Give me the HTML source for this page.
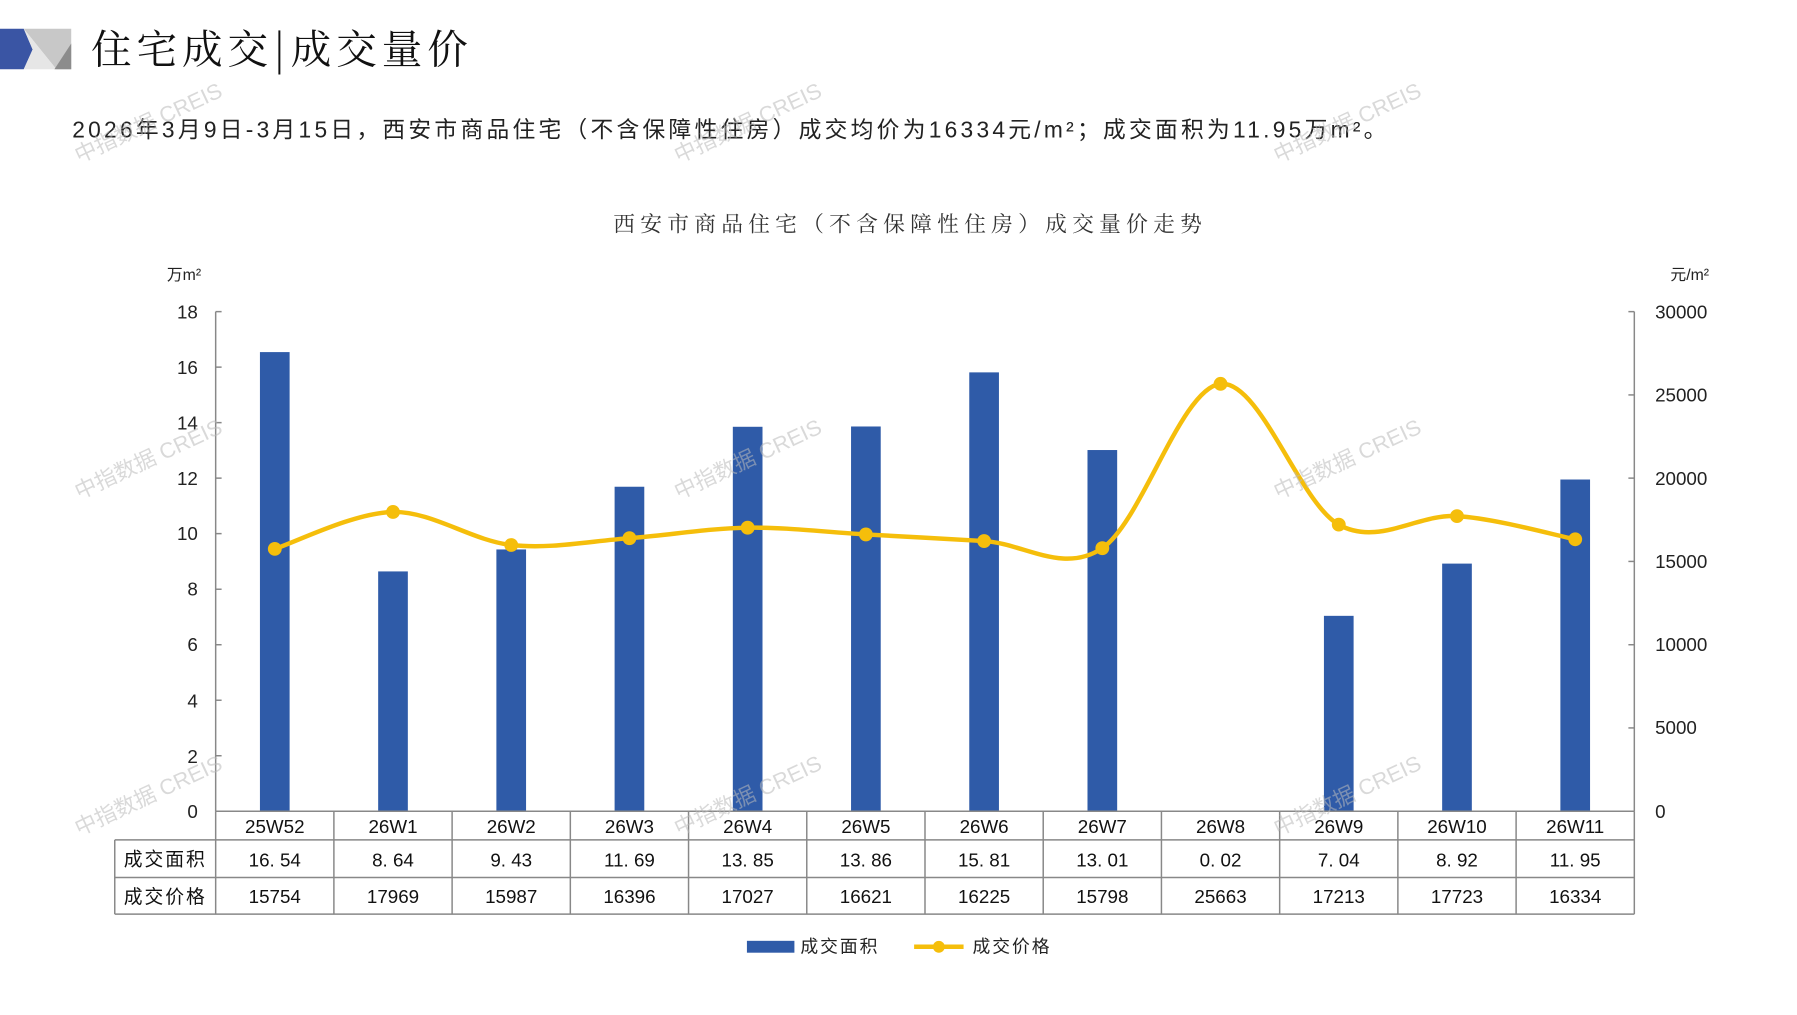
<!DOCTYPE html>
<html><head><meta charset="utf-8"><style>
html,body{margin:0;padding:0;background:#fff;}
body{width:1797px;height:1010px;overflow:hidden;position:relative;font-family:"Liberation Sans","Noto Sans CJK SC",sans-serif;}
</style></head><body>
<svg width="1797" height="1010" viewBox="0 0 1797 1010" xmlns="http://www.w3.org/2000/svg" font-family="Liberation Sans, Noto Sans CJK SC, sans-serif">
<g transform="scale(0.9893)">
<!-- header logo -->
<polygon points="0,29 24,29 33,50 24,70 0,70" fill="#3a55a4"/>
<polygon points="24,29 72,29 72,70 57,70" fill="#c8c8c8"/>
<polygon points="24,29 57,70 24,70 33,50" fill="#e6e6e6"/>
<polygon points="72,44 72,70 55,70" fill="#8c8c8c"/>
<text x="92" y="64" font-size="41" fill="#111" letter-spacing="5" font-family="Noto Serif CJK SC, serif">住宅成交|成交量价</text>
<text x="73" y="139" font-size="23" fill="#222" letter-spacing="3.3">2026年3月9日-3月15日，西安市商品住宅（不含保障性住房）成交均价为16334元/m²；成交面积为11.95万m²。</text>
<text x="920" y="234" font-size="22" fill="#333" text-anchor="middle" letter-spacing="5.3" font-family="Noto Serif CJK SC, serif">西安市商品住宅（不含保障性住房）成交量价走势</text>
<text x="186" y="283" font-size="16" fill="#222" text-anchor="middle">万m²</text>
<text x="1708" y="283" font-size="16" fill="#222" text-anchor="middle">元/m²</text>
<!-- axes -->
<g stroke="#888" stroke-width="1.5" fill="none">
<line x1="218" y1="315" x2="218" y2="820"/>
<line x1="1652" y1="315" x2="1652" y2="820"/>
</g>
<g stroke="#888" stroke-width="1.5">
<line x1="218" y1="315.0" x2="224" y2="315.0"/><line x1="218" y1="371.1" x2="224" y2="371.1"/><line x1="218" y1="427.2" x2="224" y2="427.2"/><line x1="218" y1="483.3" x2="224" y2="483.3"/><line x1="218" y1="539.4" x2="224" y2="539.4"/><line x1="218" y1="595.6" x2="224" y2="595.6"/><line x1="218" y1="651.7" x2="224" y2="651.7"/><line x1="218" y1="707.8" x2="224" y2="707.8"/><line x1="218" y1="763.9" x2="224" y2="763.9"/>
<line x1="1646" y1="315" x2="1652" y2="315"/><line x1="1646" y1="399.2" x2="1652" y2="399.2"/><line x1="1646" y1="483.3" x2="1652" y2="483.3"/><line x1="1646" y1="567.5" x2="1652" y2="567.5"/><line x1="1646" y1="651.7" x2="1652" y2="651.7"/><line x1="1646" y1="735.8" x2="1652" y2="735.8"/>
</g>
<g font-size="19" fill="#222" text-anchor="end">
<text x="200" y="322">18</text><text x="200" y="378">16</text><text x="200" y="434">14</text><text x="200" y="490">12</text><text x="200" y="546">10</text><text x="200" y="602">8</text><text x="200" y="658">6</text><text x="200" y="715">4</text><text x="200" y="771">2</text><text x="200" y="827">0</text>
</g>
<g font-size="19" fill="#222">
<text x="1673" y="322">30000</text><text x="1673" y="406">25000</text><text x="1673" y="490">20000</text><text x="1673" y="574">15000</text><text x="1673" y="658">10000</text><text x="1673" y="742">5000</text><text x="1673" y="827">0</text>
</g>
<!-- bars -->
<g fill="#2f5ba8">
<rect x="262.75" y="355.9" width="30" height="464.1"/>
<rect x="382.25" y="577.6" width="30" height="242.4"/>
<rect x="501.75" y="555.4" width="30" height="264.6"/>
<rect x="621.25" y="492.0" width="30" height="328.0"/>
<rect x="740.75" y="431.4" width="30" height="388.6"/>
<rect x="860.25" y="431.1" width="30" height="388.9"/>
<rect x="979.75" y="376.4" width="30" height="443.6"/>
<rect x="1099.25" y="454.9" width="30" height="365.1"/>
<rect x="1218.75" y="819.4" width="30" height="0.6"/>
<rect x="1338.25" y="622.5" width="30" height="197.5"/>
<rect x="1457.75" y="569.7" width="30" height="250.3"/>
<rect x="1577.25" y="484.7" width="30" height="335.3"/>
</g>
<!-- line -->
<path d="M277.75,554.8 C297.7,548.6 357.4,518.2 397.25,517.5 C437.1,516.9 476.9,546.5 516.75,550.9 C556.6,555.3 596.4,546.9 636.25,544.0 C676.1,541.1 715.9,534.0 755.75,533.4 C795.6,532.8 835.4,537.95 875.25,540.2 C915.1,542.45 954.9,544.6 994.75,546.9 C1034.6,549.2 1074.4,580.6 1114.25,554.1 C1154.1,527.6 1193.9,392.0 1233.75,388.0 C1273.6,384.0 1313.4,508.0 1353.25,530.3 C1393.1,552.6 1432.9,519.2 1472.75,521.7 C1512.6,524.2 1572.3,541.2 1592.25,545.1" fill="none" stroke="#f5be0b" stroke-width="4.5"/>
<g fill="#f5be0b">
<circle cx="277.75" cy="554.8" r="7"/><circle cx="397.25" cy="517.5" r="7"/><circle cx="516.75" cy="550.9" r="7"/><circle cx="636.25" cy="544.0" r="7"/><circle cx="755.75" cy="533.4" r="7"/><circle cx="875.25" cy="540.2" r="7"/><circle cx="994.75" cy="546.9" r="7"/><circle cx="1114.25" cy="554.1" r="7"/><circle cx="1233.75" cy="388.0" r="7"/><circle cx="1353.25" cy="530.3" r="7"/><circle cx="1472.75" cy="521.7" r="7"/><circle cx="1592.25" cy="545.1" r="7"/>
</g>
<!-- table -->
<g stroke="#888" stroke-width="1.5" fill="none">
<line x1="218" y1="820" x2="1652" y2="820"/>
<line x1="116" y1="849" x2="1652" y2="849"/>
<line x1="116" y1="887" x2="1652" y2="887"/>
<line x1="116" y1="924" x2="1652" y2="924"/>
<line x1="116" y1="849" x2="116" y2="924"/>
<line x1="218" y1="820" x2="218" y2="924"/><line x1="337.5" y1="820" x2="337.5" y2="924"/><line x1="457" y1="820" x2="457" y2="924"/><line x1="576.5" y1="820" x2="576.5" y2="924"/><line x1="696" y1="820" x2="696" y2="924"/><line x1="815.5" y1="820" x2="815.5" y2="924"/><line x1="935" y1="820" x2="935" y2="924"/><line x1="1054.5" y1="820" x2="1054.5" y2="924"/><line x1="1174" y1="820" x2="1174" y2="924"/><line x1="1293.5" y1="820" x2="1293.5" y2="924"/><line x1="1413" y1="820" x2="1413" y2="924"/><line x1="1532.5" y1="820" x2="1532.5" y2="924"/><line x1="1652" y1="820" x2="1652" y2="924"/>
</g>
<g font-size="19" fill="#111" text-anchor="middle">
<text x="277.75" y="842">25W52</text><text x="397.25" y="842">26W1</text><text x="516.75" y="842">26W2</text><text x="636.25" y="842">26W3</text><text x="755.75" y="842">26W4</text><text x="875.25" y="842">26W5</text><text x="994.75" y="842">26W6</text><text x="1114.25" y="842">26W7</text><text x="1233.75" y="842">26W8</text><text x="1353.25" y="842">26W9</text><text x="1472.75" y="842">26W10</text><text x="1592.25" y="842">26W11</text>
<text x="167" y="875" font-size="19" letter-spacing="2">成交面积</text>
<text x="167" y="913" font-size="19" letter-spacing="2">成交价格</text>
<text x="277.75" y="876">16. 54</text><text x="397.25" y="876">8. 64</text><text x="516.75" y="876">9. 43</text><text x="636.25" y="876">11. 69</text><text x="755.75" y="876">13. 85</text><text x="875.25" y="876">13. 86</text><text x="994.75" y="876">15. 81</text><text x="1114.25" y="876">13. 01</text><text x="1233.75" y="876">0. 02</text><text x="1353.25" y="876">7. 04</text><text x="1472.75" y="876">8. 92</text><text x="1592.25" y="876">11. 95</text>
<text x="277.75" y="913">15754</text><text x="397.25" y="913">17969</text><text x="516.75" y="913">15987</text><text x="636.25" y="913">16396</text><text x="755.75" y="913">17027</text><text x="875.25" y="913">16621</text><text x="994.75" y="913">16225</text><text x="1114.25" y="913">15798</text><text x="1233.75" y="913">25663</text><text x="1353.25" y="913">17213</text><text x="1472.75" y="913">17723</text><text x="1592.25" y="913">16334</text>
</g>
<!-- legend -->
<rect x="755" y="951" width="48" height="12" fill="#2f5ba8"/>
<text x="809" y="963" font-size="18" fill="#222" letter-spacing="2">成交面积</text>
<line x1="924" y1="957" x2="974" y2="957" stroke="#f5be0b" stroke-width="4.5"/>
<circle cx="949" cy="957" r="6" fill="#f5be0b"/>
<text x="983" y="963" font-size="18" fill="#222" letter-spacing="2">成交价格</text>
<!-- watermarks -->
<g font-size="22" fill="#bbb" opacity="0.55">
<text transform="translate(80,165) rotate(-25)">中指数据 CREIS</text>
<text transform="translate(686,165) rotate(-25)">中指数据 CREIS</text>
<text transform="translate(1292,165) rotate(-25)">中指数据 CREIS</text>
<text transform="translate(80,505) rotate(-25)">中指数据 CREIS</text>
<text transform="translate(686,505) rotate(-25)">中指数据 CREIS</text>
<text transform="translate(1292,505) rotate(-25)">中指数据 CREIS</text>
<text transform="translate(80,845) rotate(-25)">中指数据 CREIS</text>
<text transform="translate(686,845) rotate(-25)">中指数据 CREIS</text>
<text transform="translate(1292,845) rotate(-25)">中指数据 CREIS</text>
</g>
</g>
</svg>
</body></html>
